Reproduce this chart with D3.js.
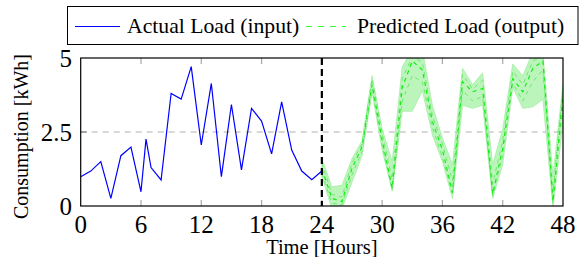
<!DOCTYPE html>
<html>
<head>
<meta charset="utf-8">
<script src="https://cdn.jsdelivr.net/npm/d3@7"></script>
<style>
body { margin: 0; background: #fff; }
text { font-family: "Liberation Serif", "DejaVu Serif", serif; }
</style>
</head>
<body>
<div id="chart"></div>
<script>
var svgwidth = 584;
var svgheight = 257;

// actual load, hours 0..24
var hoursIn = [0,1,2,3,4,5,6,6.5,7,8,9,10,11,12,13,14,15,16,17,18,19,20,21,22,23,24];
var actual = [0.99,1.18,1.50,0.26,1.70,1.99,0.48,2.26,1.30,0.88,3.80,3.61,4.71,2.06,4.14,0.99,3.43,1.22,3.30,2.87,1.76,3.52,1.89,1.18,0.89,1.18];

// predicted load, hours 24..48
var hoursOut = [24,25,26,27,28,29,30,31,32,33,34,35,36,37,38,39,40,41,42,43,44,45,46,47,48];
var predMean = [1.25,0.26,0.15,1.27,2.00,4.10,2.23,0.60,4.00,4.90,4.60,2.85,1.90,0.45,4.20,3.86,3.97,0.40,1.95,4.30,3.86,4.65,4.90,0.15,3.80];
var predA    = [1.45,0.40,0.30,1.45,2.10,4.30,2.45,0.90,4.30,5.05,4.85,3.05,2.10,0.85,4.45,3.95,4.25,0.75,2.20,4.55,4.10,4.90,5.05,0.45,4.00];
var predB    = [1.10,0.10,0.05,1.05,1.85,3.95,2.05,0.55,3.55,4.40,4.20,2.65,1.65,0.40,3.90,3.55,3.70,0.35,1.70,4.15,3.55,4.20,4.60,0.10,3.40];
var predUpper = [1.60,0.65,0.70,1.60,2.20,4.40,2.60,1.50,4.70,5.30,5.30,3.40,2.30,1.40,4.65,4.10,4.50,1.40,2.60,4.80,4.40,5.20,5.20,1.00,4.15];
var predLower = [1.00,-0.10,-0.10,0.80,1.70,3.85,1.90,0.50,3.20,3.20,3.90,2.40,1.50,0.25,3.40,3.30,3.40,0.25,1.40,4.00,3.30,3.35,3.60,-0.05,2.80];

var xTicks = [0,6,12,18,24,30,36,42,48];
var yTicks = [0,2.5,5];

var pLeft = 80.7, pRight = 563, pTop = 58, pBottom = 206;

var svg = d3.select("#chart")
    .append("svg")
    .attr("width", svgwidth)
    .attr("height", svgheight);

var xscale = d3.scaleLinear().domain([0, 48]).range([pLeft, pRight]);
var yscale = d3.scaleLinear().domain([0, 5]).range([pBottom, pTop]);

svg.append("clipPath").attr("id", "clip")
    .append("rect")
    .attr("x", pLeft).attr("y", pTop)
    .attr("width", pRight - pLeft).attr("height", pBottom - pTop);

// grid line at 2.5
svg.append("line")
    .attr("x1", pLeft).attr("x2", pRight)
    .attr("y1", yscale(2.5)).attr("y2", yscale(2.5))
    .attr("stroke", "#b0b0b0")
    .attr("stroke-width", 1)
    .attr("stroke-dasharray", "6,5");

// inner ticks, grey
var tickLen = 6;
xTicks.slice(1, -1).forEach(function(t) {
    svg.append("line")
        .attr("x1", xscale(t)).attr("x2", xscale(t))
        .attr("y1", pBottom).attr("y2", pBottom - tickLen)
        .attr("stroke", "#a8a8a8").attr("stroke-width", 1.2);
    svg.append("line")
        .attr("x1", xscale(t)).attr("x2", xscale(t))
        .attr("y1", pTop).attr("y2", pTop + tickLen)
        .attr("stroke", "#a8a8a8").attr("stroke-width", 1.2);
});
svg.append("line")
    .attr("x1", pLeft).attr("x2", pLeft + tickLen)
    .attr("y1", yscale(2.5)).attr("y2", yscale(2.5))
    .attr("stroke", "#808080").attr("stroke-width", 1.2);
svg.append("line")
    .attr("x1", pRight).attr("x2", pRight - tickLen)
    .attr("y1", yscale(2.5)).attr("y2", yscale(2.5))
    .attr("stroke", "#808080").attr("stroke-width", 1.2);

var plot = svg.append("g").attr("clip-path", "url(#clip)");

// uncertainty band
var area = d3.area()
    .x(function(d, i) { return xscale(hoursOut[i]); })
    .y0(function(d, i) { return yscale(predLower[i]); })
    .y1(function(d, i) { return yscale(predUpper[i]); });

plot.append("path")
    .datum(predUpper)
    .attr("d", area)
    .attr("fill", "#bcf5bc")
    .attr("stroke", "#a6eea6")
    .attr("stroke-width", 0.8);

var predLine = d3.line()
    .x(function(d, i) { return xscale(hoursOut[i]); })
    .y(function(d) { return yscale(d); });

[predA, predB].forEach(function(s) {
    plot.append("path")
        .datum(s)
        .attr("d", predLine)
        .attr("fill", "none")
        .attr("stroke", "#6fe86f")
        .attr("stroke-width", 1)
        .attr("stroke-dasharray", "4,4");
});
plot.append("path")
    .datum(predMean)
    .attr("d", predLine)
    .attr("fill", "none")
    .attr("stroke", "#11ee11")
    .attr("stroke-width", 1.2)
    .attr("stroke-dasharray", "4,4");

// actual load
var actLine = d3.line()
    .x(function(d, i) { return xscale(hoursIn[i]); })
    .y(function(d) { return yscale(d); });

plot.append("path")
    .datum(actual)
    .attr("d", actLine)
    .attr("fill", "none")
    .attr("stroke", "#0000ff")
    .attr("stroke-width", 1.2);

// divider at 24h
svg.append("line")
    .attr("x1", xscale(24)).attr("x2", xscale(24))
    .attr("y1", pTop).attr("y2", pBottom)
    .attr("stroke", "#000")
    .attr("stroke-width", 2.2)
    .attr("stroke-dasharray", "7,4");

// frame
svg.append("rect")
    .attr("x", pLeft).attr("y", pTop)
    .attr("width", pRight - pLeft).attr("height", pBottom - pTop)
    .attr("fill", "none")
    .attr("stroke", "#000")
    .attr("stroke-width", 1.2);

// tick labels
svg.append("g").selectAll("text")
    .data(xTicks)
    .join("text")
    .attr("x", d => xscale(d))
    .attr("y", 233)
    .attr("text-anchor", "middle")
    .style("font-size", "25px")
    .text(d => d);

svg.append("g").selectAll("text")
    .data(yTicks)
    .join("text")
    .attr("x", 72)
    .attr("y", d => yscale(d) + 8.5)
    .attr("text-anchor", "end")
    .style("font-size", "25px")
    .text(d => d);

// axis titles
svg.append("text")
    .attr("x", (pLeft + pRight) / 2)
    .attr("y", 254)
    .attr("text-anchor", "middle")
    .style("font-size", "20.5px")
    .text("Time [Hours]");

svg.append("text")
    .attr("transform", "rotate(-90)")
    .attr("x", -136.5)
    .attr("y", 28)
    .attr("text-anchor", "middle")
    .style("font-size", "20px")
    .text("Consumption [kWh]");

// legend
var lg = svg.append("g");
lg.append("rect")
    .attr("x", 67.5).attr("y", 6.5)
    .attr("width", 510.5).attr("height", 38)
    .attr("fill", "#fff")
    .attr("stroke", "#000")
    .attr("stroke-width", 1);
lg.append("line")
    .attr("x1", 75).attr("x2", 120)
    .attr("y1", 26.5).attr("y2", 26.5)
    .attr("stroke", "#0000ff").attr("stroke-width", 1.2);
lg.append("text")
    .attr("x", 127).attr("y", 33)
    .style("font-size", "21.7px")
    .text("Actual Load (input)");
lg.append("line")
    .attr("x1", 306).attr("x2", 346)
    .attr("y1", 26.5).attr("y2", 26.5)
    .attr("stroke", "#33ff33").attr("stroke-width", 1.2)
    .attr("stroke-dasharray", "6,6");
lg.append("text")
    .attr("x", 357).attr("y", 33)
    .style("font-size", "21.7px")
    .text("Predicted Load (output)");
</script>
</body>
</html>
